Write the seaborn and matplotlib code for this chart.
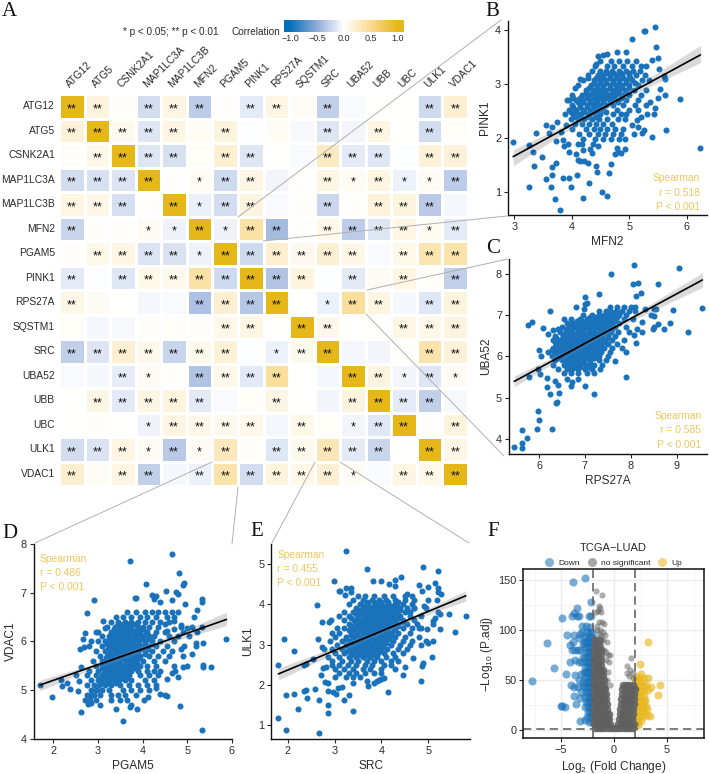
import numpy as np
import pandas as pd
import matplotlib
matplotlib.use("Agg")
import matplotlib.pyplot as plt
import seaborn as sns
from matplotlib.colors import LinearSegmentedColormap
from matplotlib.lines import Line2D

sns.set_theme(style="ticks")
plt.rcParams['font.family'] = ['Liberation Sans', 'DejaVu Sans']
plt.rcParams['mathtext.fontset'] = 'custom'
plt.rcParams['mathtext.rm'] = 'Liberation Sans'

# --- 1. DATA ---
genes = ["ATG12", "ATG5", "CSNK2A1", "MAP1LC3A", "MAP1LC3B", "MFN2", "PGAM5", "PINK1",
         "RPS27A", "SQSTM1", "SRC", "UBA52", "UBB", "UBC", "ULK1", "VDAC1"]

corr = [
    [1, .15, .02, -.2, .13, -.3, .01, -.12, .13, .04, -.28, -.03, 0, 0, -.22, .2],
    [.17, 1, .07, -.15, .13, .04, .15, -.01, .04, -.04, -.15, -.06, .13, 0, -.2, .03],
    [.02, .1, 1, -.15, -.18, .03, .2, -.15, 0, -.03, .27, -.12, -.14, -.01, .18, .17],
    [-.2, -.18, -.16, 1, .01, .04, -.22, .12, -.06, .01, .12, .06, .13, -.08, .05, -.3],
    [.13, .11, -.19, .01, 1, -.09, -.2, .14, -.03, .02, -.24, .01, .16, .15, -.32, -.05],
    [-.25, .02, .01, .05, -.07, 1, -.07, .4, -.4, .02, .1, -.3, -.15, .13, .06, -.12],
    [.01, .1, .12, -.16, -.17, -.07, 1, -.22, .22, .07, .2, .11, -.03, .1, .35, .38],
    [-.12, -.01, -.14, .1, .08, .4, -.22, 1, -.35, .15, -.01, -.13, .05, .13, .03, -.28],
    [.11, .05, 0, -.05, -.03, -.37, .2, -.33, 1, 0, -.08, .45, .13, -.05, -.14, .15],
    [.03, -.05, -.04, .02, .03, .02, .1, .12, 0, 1, .09, 0, 0, .12, .1, .14],
    [-.28, -.15, .2, .09, -.25, .08, .18, -.01, -.08, .08, 1, -.05, -.06, .02, .38, .17],
    [-.03, -.05, -.11, .05, .01, -.35, .09, -.13, .45, 0, -.05, 1, .14, -.06, -.15, .05],
    [0, .12, -.13, .12, .15, -.12, -.03, .03, .12, 0, -.06, .14, 1, -.12, -.28, -.04],
    [0, .01, 0, -.07, .13, .1, .07, .09, -.05, .1, .03, -.06, -.14, 1, .01, .15],
    [-.2, -.16, .13, .05, -.32, .05, .3, .02, -.14, .08, .33, -.13, -.25, 0, 1, .11],
    [.22, .04, .13, -.28, -.05, -.08, .38, -.2, .15, .1, .2, .04, -.02, .13, .1, 1],
]
# number of stars per cell
stars = ["2202220220200022", "2222202000202020", "0222202200222022", "2222012200212112",
         "2220212200202220", "2001121220222212", "0222212222220222", "2022222222020202",
         "2000022220122022", "0000002202200222", "2222222012200022", "0021022220022121",
         "0222220020022220", "0001222202012202", "2221212022222022", "2022022222210222"]

# panel B: MFN2 (x), PINK1 (y)
mfn2_pink1 = [(2.98, 1.93), (3.25, 1.88), (3.32, 1.75), (3.35, 1.49), (3.26, 1.09), (3.38, 2.1), (3.49, 1.65),
    (3.55, 2.24), (3.55, 1.24), (3.6, 2.1), (3.63, 1.1), (3.65, 2.2), (3.65, 1.47), (3.66, 1.32), (3.7, .87),
    (3.73, 1.55), (3.72, 1.95), (3.74, 2.29), (3.8, .67), (3.82, 2.12), (3.84, 1.27), (3.84, 1.96), (3.87, 1.85),
    (3.9, 2.25), (3.93, 1.9), (3.95, 1.27), (3.96, 1.75), (3.98, 1.1), (4.09, 1.32), (4.2, .9), (4.3, 1.18),
    (4.42, 1.48), (4.44, 1.37), (4.53, 1.0), (4.62, .93), (4.64, 1.35), (4.68, 1.53), (4.75, 1.7), (4.78, 1.82),
    (4.8, 1.75), (4.85, 1.72), (4.92, 1.8), (5.22, 2.1), (5.08, 2.07), (5.4, 2.02), (5.64, 2.15), (5.89, 2.72),
    (6.24, 1.82), (5.45, 4.05), (5.27, 3.98), (5.26, 3.99), (5.04, 3.84), (5.47, 3.69), (4.95, 3.6), (4.79, 3.6),
    (4.45, 3.52), (4.55, 3.53), (4.62, 3.55), (5.5, 3.48), (5.4, 3.45), (5.52, 3.27), (5.6, 3.15), (5.63, 3.1),
    (5.53, 2.9), (5.62, 2.8), (5.5, 2.75), (5.45, 2.55), (5.37, 2.67), (5.43, 2.45), (5.31, 2.45), (5.2, 2.4),
    (5.14, 2.34), (5.05, 2.25), (5.15, 2.2), (5.25, 2.15), (4.1, 1.6), (4.15, 1.58), (4.22, 1.57), (4.28, 1.55),
    (4.08, 1.7), (4.1, 1.9), (4.18, 1.9), (4.2, 1.78), (4.31, 1.8), (4.36, 1.73), (4.37, 1.9), (4.45, 1.85),
    (3.95, 2.7), (4.02, 2.75), (4.15, 3.09), (4.05, 2.93), (4.28, 3.12), (4.43, 3.38)]
mfn2_pink1_rows = [
    (3.42, [4.5, 4.68, 4.83, 4.97, 5.12]), (3.34, [4.4, 4.62, 4.74, 4.9, 5.05, 5.2, 5.3]),
    (3.25, [4.35, 4.5, 4.6, 4.7, 4.82, 4.94, 5.07, 5.18]), (3.16, [4.28, 4.45, 4.55, 4.66, 4.77, 4.88, 5.0, 5.12, 5.28]),
    (3.07, [4.2, 4.38, 4.5, 4.6, 4.72, 4.83, 4.94, 5.05, 5.22, 5.35]), (2.98, [4.1, 4.33, 4.44, 4.55, 4.66, 4.77, 4.88, 4.99, 5.15]),
    (2.89, [4.25, 4.38, 4.5, 4.6, 4.72, 4.83, 4.94, 5.08, 5.3]), (2.8, [4.0, 4.18, 4.3, 4.42, 4.53, 4.64, 4.75, 4.86, 5.0, 5.2]),
    (2.71, [3.92, 4.08, 4.2, 4.32, 4.44, 4.55, 4.66, 4.8, 4.95, 5.15]), (2.62, [4.0, 4.15, 4.26, 4.37, 4.48, 4.6, 4.72, 4.9, 5.1, 5.3]),
    (2.53, [3.95, 4.08, 4.2, 4.32, 4.43, 4.55, 4.78, 5.0, 5.15]), (2.44, [3.88, 4.02, 4.15, 4.28, 4.4, 4.5, 4.72, 4.85, 4.95]),
    (2.35, [3.98, 4.1, 4.22, 4.36, 4.48, 4.62, 4.8, 4.92]), (2.26, [4.05, 4.18, 4.3, 4.42, 4.55, 4.7]),
    (2.17, [4.0, 4.25, 4.38, 4.5, 4.62, 4.75, 4.9]), (2.08, [4.12, 4.3, 4.45, 4.58, 4.72, 4.85]),
    (1.98, [4.2, 4.4, 4.55, 4.68, 4.82, 4.92]),
    # staggered rows through the solid middle
    (3.2, [4.5, 4.62, 4.72, 4.85, 5.0]), (3.11, [4.42, 4.55, 4.66, 4.78, 4.9, 5.02]),
    (3.02, [4.38, 4.5, 4.6, 4.72, 4.83, 4.94, 5.1]), (2.93, [4.3, 4.44, 4.55, 4.66, 4.78, 4.88, 5.0]),
    (2.84, [4.24, 4.36, 4.47, 4.58, 4.7, 4.8, 4.92]), (2.75, [4.14, 4.26, 4.38, 4.5, 4.6, 4.72, 4.88]),
    (2.66, [4.1, 4.2, 4.32, 4.42, 4.54, 4.66, 4.8]), (2.57, [4.02, 4.14, 4.26, 4.38, 4.5]),
    (2.48, [3.98, 4.08, 4.22, 4.35, 4.46, 4.6]), (2.39, [4.05, 4.16, 4.3, 4.42])]

# panel C: RPS27A (x), UBA52 (y)
rps27a_uba52 = [(5.46, 3.8), (5.64, 3.77), (5.62, 3.9), (5.73, 4.03), (5.64, 4.22), (5.95, 4.24), (6.28, 4.23),
    (6.0, 4.46), (5.97, 4.68), (6.37, 4.88), (6.4, 4.9), (6.24, 5.1), (6.43, 5.12), (6.17, 5.25), (6.35, 5.4),
    (6.42, 5.3), (6.17, 5.48), (5.78, 5.5), (6.03, 5.58), (5.97, 5.7), (6.05, 6.0), (5.99, 6.16), (5.75, 6.77),
    (5.85, 6.82), (6.09, 6.69), (6.24, 7.1), (6.2, 6.55), (6.3, 6.63), (6.42, 6.65), (6.55, 6.9), (6.8, 7.2),
    (7.0, 7.44), (7.05, 7.3), (7.0, 7.27), (6.98, 7.15), (7.3, 7.5), (7.57, 8.0), (8.07, 8.2), (9.05, 8.13),
    (8.05, 7.76), (8.15, 7.77), (8.6, 7.75), (8.22, 7.53), (8.12, 7.45), (9.56, 7.16), (8.92, 7.11), (8.86, 6.8),
    (9.25, 6.6), (8.73, 6.66), (8.6, 6.78), (8.5, 6.7), (8.48, 6.65), (8.5, 6.97), (8.55, 7.14), (8.5, 7.15),
    (8.45, 7.0), (8.25, 6.83), (8.3, 7.15), (8.25, 6.6), (8.13, 6.65), (8.07, 6.52), (8.12, 6.32), (7.9, 6.1),
    (7.9, 5.5), (7.2, 5.1), (7.0, 5.27), (6.7, 5.27), (6.72, 5.37), (6.85, 5.45), (6.62, 5.45), (7.65, 5.88)]
rps27a_uba52_rows = [
    (7.2, [7.55, 7.7, 7.85, 8.0, 8.1]), (7.1, [7.3, 7.45, 7.55, 7.68, 7.8, 7.95, 8.1]),
    (7.0, [6.95, 7.15, 7.3, 7.42, 7.52, 7.62, 7.75, 7.9]), (6.9, [6.7, 6.9, 7.05, 7.2, 7.33, 7.43, 7.53, 7.65, 7.85, 8.05]),
    (6.8, [6.6, 6.75, 6.88, 7.0, 7.12, 7.24, 7.36, 7.48, 7.6, 7.75]), (6.7, [6.5, 6.65, 6.78, 6.9, 7.02, 7.14, 7.26, 7.38, 7.5, 7.65, 7.9]),
    (6.6, [6.45, 6.6, 6.72, 6.84, 6.96, 7.08, 7.2, 7.32, 7.44, 7.56, 7.72, 7.95]), (6.5, [6.35, 6.52, 6.65, 6.77, 6.89, 7.01, 7.13, 7.25, 7.37, 7.5, 7.65]),
    (6.4, [6.3, 6.45, 6.58, 6.7, 6.82, 6.94, 7.06, 7.18, 7.3, 7.42, 7.6, 7.85]), (6.3, [6.38, 6.52, 6.64, 6.76, 6.88, 7.0, 7.12, 7.24, 7.36, 7.5, 7.7]),
    (6.2, [6.3, 6.44, 6.56, 6.68, 6.8, 6.92, 7.04, 7.16, 7.28, 7.42, 7.6, 7.8]), (6.1, [6.2, 6.35, 6.48, 6.6, 6.72, 6.84, 6.96, 7.08, 7.2, 7.35, 7.55]),
    (6.0, [6.28, 6.42, 6.54, 6.66, 6.78, 6.9, 7.02, 7.14, 7.3, 7.5]), (5.9, [6.35, 6.5, 6.62, 6.74, 6.86, 6.98, 7.1, 7.3, 7.45]),
    (5.8, [6.3, 6.55, 6.66, 6.78, 6.9, 7.02, 7.2, 7.38]), (5.7, [6.42, 6.6, 6.72, 6.85, 7.0, 7.15, 7.32]),
    (5.6, [6.55, 6.7, 6.85, 7.05, 7.2]),
    # staggered rows through the solid middle
    (7.05, [7.5, 7.62, 7.75]), (6.95, [7.1, 7.25, 7.38, 7.48, 7.58, 7.7]),
    (6.85, [6.82, 6.94, 7.06, 7.18, 7.3, 7.42, 7.54, 7.66]), (6.75, [6.7, 6.84, 6.96, 7.08, 7.2, 7.32, 7.44, 7.56]),
    (6.65, [6.58, 6.72, 6.84, 6.96, 7.08, 7.2, 7.32, 7.44, 7.58]), (6.55, [6.52, 6.66, 6.78, 6.9, 7.02, 7.14, 7.26, 7.38, 7.5]),
    (6.45, [6.38, 6.52, 6.64, 6.76, 6.88, 7.0, 7.12, 7.24, 7.36, 7.5]), (6.35, [6.34, 6.46, 6.58, 6.7, 6.82, 6.94, 7.06, 7.18, 7.3, 7.44]),
    (6.25, [6.38, 6.5, 6.62, 6.74, 6.86, 6.98, 7.1, 7.22, 7.36]), (6.15, [6.28, 6.42, 6.54, 6.66, 6.78, 6.9, 7.02, 7.14, 7.28]),
    (6.05, [6.35, 6.48, 6.6, 6.72, 6.84, 6.96, 7.08, 7.22]), (5.95, [6.44, 6.56, 6.68, 6.8, 6.92, 7.04, 7.2]),
    (5.85, [6.6, 6.72, 6.84, 6.96, 7.1]), (5.75, [6.66, 6.78, 6.9, 7.08])]

# panel D: PGAM5 (x), VDAC1 (y)
pgam5_vdac1 = [(1.7, 5.1), (1.98, 4.85), (2.17, 5.2), (2.2, 5.08), (2.3, 5.15), (2.38, 5.03), (2.5, 5.3), (2.55, 4.98),
    (2.58, 5.18), (2.63, 4.55), (2.62, 5.47), (2.6, 5.85), (2.68, 5.88), (2.72, 6.17), (2.75, 6.58), (2.67, 6.05),
    (2.92, 6.84), (2.95, 6.2), (3.12, 6.42), (3.15, 6.28), (3.72, 7.66), (4.67, 7.8), (4.82, 7.4), (4.93, 7.2),
    (4.9, 7.15), (4.07, 7.18), (3.85, 6.9), (3.82, 6.9), (4.2, 6.95), (4.25, 6.87), (4.3, 6.93), (4.52, 7.04),
    (4.75, 7.02), (4.8, 6.98), (4.65, 6.85), (4.4, 6.8), (4.95, 6.77), (5.33, 6.88), (5.33, 6.8), (5.23, 6.65),
    (5.15, 6.5), (5.88, 6.05), (5.53, 5.48), (5.36, 5.52), (5.35, 5.48), (5.35, 5.97), (5.2, 5.9), (5.2, 5.97),
    (5.1, 5.75), (5.33, 4.18), (4.83, 4.68), (4.5, 4.9), (4.4, 4.92), (4.55, 4.88), (4.55, 5.23), (4.3, 5.05),
    (3.57, 4.37), (3.4, 4.62), (3.87, 4.6), (4.04, 4.8), (4.13, 4.85), (3.75, 4.7), (3.72, 4.65), (3.05, 4.7),
    (2.85, 4.73), (2.78, 4.72), (5.0, 5.5), (4.9, 5.47), (4.8, 5.27), (4.67, 5.35), (4.73, 5.4), (4.85, 5.85),
    (4.92, 5.9), (5.1, 6.3), (5.0, 6.28), (5.33, 6.3), (5.22, 6.2), (4.85, 6.33), (5.05, 6.1), (4.5, 6.35),
    (4.7, 6.42), (4.55, 6.22), (4.7, 6.25), (2.85, 4.9), (2.95, 5.0), (2.82, 4.82)]
pgam5_vdac1_rows = [
    (6.6, [3.65, 3.85, 4.05, 4.2, 4.35, 4.5, 4.65, 4.8]), (6.5, [3.4, 3.55, 3.75, 3.95, 4.1, 4.3, 4.55, 4.7]),
    (6.4, [3.3, 3.45, 3.6, 3.75, 3.9, 4.05, 4.2, 4.4, 4.6]), (6.3, [3.2, 3.38, 3.5, 3.62, 3.75, 3.9, 4.0, 4.15, 4.35, 4.85]),
    (6.2, [3.0, 3.3, 3.42, 3.55, 3.68, 3.8, 3.95, 4.1, 4.3, 4.5, 4.9]), (6.1, [3.1, 3.25, 3.38, 3.5, 3.62, 3.74, 3.86, 4.0, 4.15, 4.25, 4.6, 4.8]),
    (6.0, [2.85, 3.0, 3.15, 3.3, 3.42, 3.54, 3.66, 3.78, 3.9, 4.05, 4.2, 4.4, 4.7]), (5.9, [2.8, 3.1, 3.25, 3.37, 3.49, 3.61, 3.73, 3.85, 3.97, 4.12, 4.3, 4.55]),
    (5.8, [2.95, 3.15, 3.3, 3.42, 3.54, 3.66, 3.78, 3.9, 4.05, 4.2, 4.45, 4.65]), (5.7, [3.05, 3.2, 3.35, 3.47, 3.59, 3.71, 3.83, 3.95, 4.15, 4.35, 4.6, 4.9]),
    (5.6, [2.88, 3.1, 3.25, 3.38, 3.5, 3.62, 3.74, 3.86, 4.0, 4.25, 4.5]), (5.5, [2.95, 3.1, 3.2, 3.32, 3.44, 3.56, 3.68, 3.8, 3.95, 4.1, 4.3, 4.7]),
    (5.4, [2.8, 3.0, 3.15, 3.27, 3.39, 3.51, 3.63, 3.75, 3.9, 4.1, 4.25, 4.4]), (5.3, [2.75, 2.95, 3.08, 3.2, 3.32, 3.44, 3.56, 3.7, 3.95, 4.15, 4.35]),
    (5.2, [2.85, 3.0, 3.12, 3.24, 3.36, 3.48, 3.6, 3.75, 4.05, 4.25]), (5.1, [2.75, 2.9, 3.02, 3.15, 3.3, 3.5, 3.7, 3.9, 4.1, 4.3]),
    (5.0, [2.85, 2.98, 3.1, 3.25, 3.55, 3.75, 3.95, 4.15]), (4.9, [2.75, 2.9, 3.05, 3.3, 3.45, 3.6, 3.85]),
    (4.8, [2.7, 2.95, 3.3, 3.5, 3.65]),
    # staggered rows through the solid middle
    (6.35, [3.44, 3.56, 3.7, 3.84]), (6.25, [3.36, 3.48, 3.6, 3.74, 3.88, 4.02]),
    (6.15, [3.32, 3.44, 3.56, 3.68, 3.8, 3.92, 4.08]), (6.05, [3.24, 3.36, 3.48, 3.6, 3.72, 3.84, 3.96, 4.12]),
    (5.95, [3.2, 3.31, 3.43, 3.55, 3.67, 3.79, 3.91, 4.05, 4.2]), (5.85, [3.22, 3.36, 3.48, 3.6, 3.72, 3.84, 3.97, 4.12]),
    (5.75, [3.26, 3.41, 3.53, 3.65, 3.77, 3.89, 4.05]), (5.65, [3.18, 3.32, 3.44, 3.56, 3.68, 3.8, 3.93]),
    (5.55, [3.15, 3.26, 3.38, 3.5, 3.62, 3.74, 3.88]), (5.45, [3.08, 3.21, 3.33, 3.45, 3.57, 3.69, 3.82]),
    (5.35, [3.14, 3.26, 3.38, 3.5, 3.62]), (5.25, [3.06, 3.18, 3.3, 3.42, 3.54, 3.66]),
    (5.15, [3.08, 3.22, 3.4])]

# panel E: SRC (x), ULK1 (y)
src_ulk1 = [(1.8, 1.17), (1.97, .87), (2.67, .8), (3.39, 1.35), (2.87, 1.3), (2.85, 1.5), (2.22, 1.39), (2.67, 1.62),
    (2.42, 1.67), (1.97, 1.75), (2.13, 1.77), (2.35, 1.85), (2.4, 1.88), (2.58, 1.9), (3.2, 1.63), (3.3, 1.75),
    (4.14, 1.82), (1.8, 2.5), (1.93, 3.13), (2.13, 2.83), (2.35, 2.5), (2.4, 2.52), (2.55, 2.65), (2.63, 3.98),
    (2.65, 3.15), (2.73, 2.95), (2.78, 2.88), (2.73, 3.57), (2.88, 3.57), (2.93, 3.6), (2.99, 4.59), (3.1, 4.32),
    (3.12, 4.33), (3.25, 4.4), (3.23, 4.22), (3.35, 4.3), (3.35, 4.4), (3.25, 5.33), (3.7, 4.87), (3.82, 4.58),
    (4.0, 4.59), (4.17, 4.5), (4.3, 4.6), (4.42, 4.67), (4.3, 4.45), (4.8, 4.48), (4.88, 4.93), (5.2, 4.82),
    (5.15, 4.53), (5.2, 4.4), (5.0, 4.43), (4.87, 4.32), (5.2, 4.3), (5.27, 4.25), (5.0, 4.1), (5.18, 4.12),
    (5.45, 3.75), (5.8, 3.72), (5.57, 3.32), (5.25, 3.38), (5.2, 3.8), (5.25, 3.75), (5.1, 3.58), (5.15, 3.65),
    (5.1, 3.5), (4.97, 3.38), (5.1, 3.09), (4.95, 3.1), (5.0, 3.05), (5.08, 2.7), (4.88, 2.55), (4.87, 2.47),
    (4.85, 2.1), (4.47, 2.24), (4.5, 2.44), (4.67, 2.66), (4.0, 2.3), (4.05, 2.18), (4.0, 2.15), (3.95, 2.12),
    (3.85, 2.05), (3.9, 2.1), (3.7, 2.1), (3.72, 1.98), (2.8, 2.08), (2.85, 2.05), (2.87, 1.84), (2.97, 1.82),
    (3.03, 1.77), (3.07, 1.93), (3.15, 1.95), (3.4, 2.05), (2.7, 2.25), (2.75, 2.42), (2.82, 2.43), (4.9, 3.95),
    (4.95, 3.9), (4.85, 3.7), (4.8, 3.4), (4.85, 3.0), (4.7, 3.9), (4.55, 4.25)]
src_ulk1_rows = [
    (4.2, [3.5, 3.65, 3.85, 4.05, 4.25, 4.5, 4.65]), (4.1, [3.4, 3.6, 3.8, 3.95, 4.1, 4.3, 4.5, 4.7]),
    (4.0, [3.3, 3.55, 3.72, 3.88, 4.0, 4.15, 4.3, 4.45, 4.65]), (3.9, [3.45, 3.65, 3.78, 3.9, 4.02, 4.14, 4.26, 4.4, 4.55, 4.7]),
    (3.8, [3.2, 3.4, 3.58, 3.72, 3.84, 3.96, 4.08, 4.2, 4.32, 4.5, 4.62]), (3.7, [3.1, 3.3, 3.5, 3.65, 3.77, 3.89, 4.01, 4.13, 4.25, 4.4, 4.6]),
    (3.6, [3.2, 3.42, 3.58, 3.7, 3.82, 3.94, 4.06, 4.18, 4.3, 4.45, 4.7]), (3.5, [3.3, 3.5, 3.62, 3.74, 3.86, 3.98, 4.1, 4.22, 4.36, 4.55, 4.75]),
    (3.4, [3.05, 3.2, 3.42, 3.55, 3.67, 3.79, 3.91, 4.03, 4.15, 4.27, 4.45, 4.65, 4.85]), (3.3, [2.95, 3.1, 3.35, 3.48, 3.6, 3.72, 3.84, 3.96, 4.08, 4.2, 4.35, 4.6]),
    (3.2, [3.0, 3.25, 3.42, 3.55, 3.67, 3.79, 3.91, 4.03, 4.15, 4.3, 4.5, 4.8]), (3.1, [2.9, 3.15, 3.33, 3.47, 3.6, 3.72, 3.84, 3.96, 4.08, 4.25, 4.45, 4.65]),
    (3.0, [3.05, 3.25, 3.4, 3.53, 3.66, 3.78, 3.9, 4.02, 4.2, 4.4, 4.6]), (2.9, [2.95, 3.15, 3.3, 3.45, 3.6, 3.72, 3.84, 3.96, 4.12, 4.35, 4.55]),
    (2.8, [3.0, 3.2, 3.35, 3.5, 3.65, 3.8, 3.92, 4.05, 4.25, 4.45]), (2.7, [2.85, 3.1, 3.3, 3.45, 3.6, 3.75, 3.9, 4.1, 4.3]),
    (2.6, [2.95, 3.15, 3.35, 3.5, 3.7, 3.85, 4.0, 4.2, 4.35]), (2.5, [2.95, 3.1, 3.28, 3.45, 3.65, 3.8, 4.05, 4.2]),
    (2.4, [3.0, 3.2, 3.4, 3.6, 3.75, 4.0, 4.3]), (2.3, [3.1, 3.3, 3.45, 3.65, 3.85]),
    (2.2, [3.0, 3.25, 3.4, 3.55]),
    # staggered rows through the solid middle
    (4.05, [3.7, 3.85, 4.0, 4.15, 4.35]), (3.95, [3.6, 3.72, 3.84, 3.96, 4.08, 4.2, 4.33]),
    (3.85, [3.52, 3.65, 3.78, 3.9, 4.02, 4.14, 4.26, 4.4]), (3.75, [3.45, 3.58, 3.71, 3.83, 3.95, 4.07, 4.19, 4.33]),
    (3.65, [3.36, 3.5, 3.64, 3.76, 3.88, 4.0, 4.12, 4.24, 4.38]), (3.55, [3.44, 3.56, 3.68, 3.8, 3.92, 4.04, 4.16, 4.28, 4.45]),
    (3.45, [3.36, 3.48, 3.61, 3.73, 3.85, 3.97, 4.09, 4.21, 4.35]), (3.35, [3.3, 3.42, 3.54, 3.66, 3.78, 3.9, 4.02, 4.14, 4.28]),
    (3.25, [3.35, 3.48, 3.61, 3.73, 3.85, 3.97, 4.09, 4.22]), (3.15, [3.25, 3.4, 3.54, 3.66, 3.78, 3.9, 4.02, 4.16]),
    (3.05, [3.33, 3.46, 3.59, 3.72, 3.84, 3.96, 4.1]), (2.95, [3.38, 3.52, 3.66, 3.78, 3.9, 4.04]),
    (2.85, [3.27, 3.42, 3.58, 3.72, 3.86, 3.98]), (2.75, [3.38, 3.52, 3.68, 3.82])]

# panel F: volcano, points as (log2FC, -log10 padj)
down_points = [(-2.77, 152), (-3.9, 148), (-2.17, 128), (-3.46, 121.5), (-3.77, 117), (-3.93, 113.6), (-3.5, 113.6),
    (-3.27, 113.6), (-4.94, 112), (-2.33, 114), (-2.17, 114), (-6.35, 87.4), (-5.63, 62), (-7.74, 49), (-4.43, 95),
    (-3.77, 95), (-4.53, 56), (-5, 24), (-4.87, 24), (-4.62, 23.5), (-3.2, 9.6), (-2.73, 10), (-3.6, 26), (-3.74, 34),
    (-4.06, 45), (-3.74, 43), (-3.36, 43), (-3.68, 55), (-4.15, 68), (-3.68, 70), (-4, 80), (-3.68, 80), (-3.84, 88),
    (-4.15, 85), (-3.05, 103.6), (-2.67, 103.6), (-2.26, 103), (-3.2, 96), (-3.2, 32), (-3.1, 38), (-3.3, 50), (-3.1, 56),
    (-3.0, 68), (-3.3, 68), (-3.2, 80), (-3.4, 80), (-3.3, 92), (-3.0, 98), (-2.9, 44), (-2.9, 86)]
down_rows = [(8, [-2.1, -2.4]), (13, [-2.05, -2.3, -2.55]), (18, [-2.05, -2.25, -2.5]), (23, [-2.05, -2.25, -2.45, -2.7]),
    (28, [-2.05, -2.25, -2.45, -2.65]), (33, [-2.05, -2.25, -2.45, -2.7]), (38, [-2.05, -2.25, -2.45, -2.65]),
    (43, [-2.05, -2.25, -2.45, -2.7]), (48, [-2.05, -2.25, -2.45, -2.65, -2.9]), (53, [-2.05, -2.25, -2.45, -2.7]),
    (58, [-2.05, -2.25, -2.45, -2.65, -2.85]), (63, [-2.05, -2.25, -2.45, -2.7]), (68, [-2.05, -2.25, -2.45, -2.65]),
    (73, [-2.05, -2.25, -2.45, -2.7, -2.9]), (78, [-2.05, -2.25, -2.45, -2.65]), (83, [-2.05, -2.25, -2.45, -2.7]),
    (88, [-2.05, -2.25, -2.45, -2.65, -2.85]), (93, [-2.05, -2.25, -2.45, -2.7]), (98, [-2.1, -2.3, -2.55])]
ns_sparse = [(-1.7, 139), (-1.13, 135), (-1.4, 124), (-1.3, 122), (-1.2, 118), (-1.7, 118), (-1.5, 119), (1.57, 72.5),
    (1.2, 64), (1.5, 60), (1.8, 57), (1.2, 57), (1.4, 54), (1.75, 52), (-.38, 75), (-.5, 68), (-.6, 58), (-.7, 50), (-.35, 45),
    (-1.4, 108), (-1.1, 108), (-.9, 106), (-1.3, 100), (-1.05, 98), (-.85, 95), (-1.0, 90), (-.7, 88), (-.95, 80), (-.75, 78),
    (-.8, 70), (-.55, 75), (-1.6, 104), (-1.2, 94), (-1.45, 96), (-1.75, 92), (-1.55, 88), (-1.2, 84), (-1.65, 100)]
ns_rows = [(2, [-1.8, -1.5, -1.2, -.9, -.6, -.3, 0, .3, .6, .9, 1.2, 1.5, 1.8]),
    (6, [-1.85, -1.55, -1.25, -.95, -.65, -.35, .35, .65, .95, 1.25, 1.55, 1.85]),
    (11, [-1.85, -1.55, -1.25, -.95, -.65, -.45, .5, .8, 1.1, 1.4, 1.7]),
    (16, [-1.85, -1.55, -1.25, -.95, -.7, -.5, .55, .85, 1.15, 1.45, 1.75]),
    (21, [-1.85, -1.55, -1.25, -.95, -.65, .6, .9, 1.2, 1.5, 1.8]),
    (26, [-1.85, -1.55, -1.25, -.95, -.7, .65, .95, 1.25, 1.55, 1.85]),
    (31, [-1.85, -1.55, -1.25, -.95, -.75, .7, 1.0, 1.3, 1.6, 1.9]),
    (36, [-1.85, -1.55, -1.25, -.95, -.8, .75, 1.05, 1.35, 1.65, 1.9]),
    (41, [-1.85, -1.55, -1.25, -.95, -.85, .8, 1.1, 1.4, 1.7, 1.95]),
    (45, [-1.85, -1.55, -1.25, -.9, .85, 1.15, 1.45, 1.75]), (50, [-1.85, -1.55, -1.25, -.95]),
    (55, [-1.85, -1.55, -1.25, -1.0]), (60, [-1.85, -1.55, -1.25, -1.05]), (65, [-1.85, -1.55, -1.25]),
    (70, [-1.85, -1.55, -1.25]), (75, [-1.85, -1.5, -1.2]), (80, [-1.85, -1.5, -1.25]), (85, [-1.8, -1.45]), (90, [-1.75, -1.3])]
up_points = [(3.2, 88.4), (2.42, 66), (2.5, 56), (3.18, 52), (4.34, 44.7), (4.18, 35), (3.5, 43), (3.4, 14.6), (3.08, 21),
    (3.1, 15), (3.2, 40), (3.0, 45), (2.95, 30), (2.85, 52), (3.05, 24)]
up_rows = [(5, [2.05, 2.25]), (9, [2.05, 2.3, 2.55]), (14, [2.05, 2.3, 2.55, 2.8]), (19, [2.05, 2.3, 2.55, 2.8]),
    (24, [2.05, 2.3, 2.55, 2.75]), (29, [2.05, 2.3, 2.55, 2.8]), (34, [2.05, 2.3, 2.55, 2.8]), (39, [2.05, 2.3, 2.55, 2.8]),
    (44, [2.05, 2.3, 2.55, 2.8]), (49, [2.05, 2.3, 2.55]), (53, [2.1, 2.35])]


def collect(points, rows):
    # points typed one by one + the dense part typed row by row
    all_pts = list(points) + [(x, y) for y, xs in rows for x in xs]
    return pd.DataFrame(all_pts, columns=["x", "y"])


# --- 2. LAYOUT HELPERS ---
W, H = 709, 774
fig = plt.figure(figsize=(W / 100, H / 100), dpi=100)
DARK = "#2b2b2b"
GOLD = "#f0c75e"
BLUE = "#1a73ba"


def axes_px(left, top, right, bottom):
    return fig.add_axes([left / W, 1 - bottom / H, (right - left) / W, (bottom - top) / H])


def text_px(x, y, s, **kw):
    fig.text(x / W, 1 - y / H, s, **kw)


# --- 3. HEATMAP ---
cmap = LinearSegmentedColormap.from_list("corr", [(0, "#0571b9"), (.05, "#0571b9"), (.27, "#8fa9d8"), (.5, "#ffffff"),
                                                  (.73, "#f9d98e"), (.95, "#e5b718"), (1, "#e5b718")])
annot = np.array([["*" * int(c) for c in row] for row in stars])
corr_df = pd.DataFrame(corr, index=genes, columns=genes)
ax_h = axes_px(59, 94, 468, 486)
ax_cb = axes_px(284, 20, 404, 32)
sns.heatmap(corr_df, ax=ax_h, cmap=cmap, vmin=-1.11, vmax=1.11, annot=annot, fmt="", linewidths=1, linecolor="white",
            annot_kws={"fontsize": 9, "color": "#111111"}, cbar_ax=ax_cb,
            cbar_kws={"orientation": "horizontal", "ticks": [-1, -.5, 0, .5, 1]})
# asterisks sit high in the line box, push them back to the cell centre
for t in ax_h.texts:
    t.set_y(t.get_position()[1] + .13)
ax_h.xaxis.tick_top()
ax_h.tick_params(length=0, pad=3)
ax_h.set_xticklabels(genes, rotation=45, ha="left", rotation_mode="anchor", fontsize=7.4, color=DARK)
ax_h.set_yticklabels(genes, rotation=0, fontsize=7.4, color=DARK)
ax_cb.tick_params(length=0, labelsize=6.5, pad=1.5, labelcolor=DARK)
for sp in ax_cb.spines.values():
    sp.set_visible(False)
text_px(123, 32, "* p < 0.05; ** p < 0.01", fontsize=7.2, color=DARK, va="center")
text_px(231, 32, "Correlation", fontsize=7.2, color=DARK, va="center")


# --- 4. SCATTER PANELS ---
def scatter_panel(box, df, xlab, ylab, xlim, ylim, xticks, yticks, r_txt, txt_x, txt_ys, ha):
    ax = axes_px(*box)
    sns.regplot(data=df, x="x", y="y", ax=ax, ci=80, n_boot=300, seed=3, color=BLUE,
                scatter_kws={"s": 19, "alpha": 1, "linewidths": 0},
                line_kws={"color": "black", "lw": 1.2})
    ax.set_xlim(*xlim)
    ax.set_ylim(*ylim)
    ax.set_xticks(xticks)
    ax.set_yticks(yticks)
    ax.set_xlabel(xlab, fontsize=8.6, color=DARK, labelpad=3)
    ax.set_ylabel(ylab, fontsize=8.6, color=DARK, labelpad=3)
    ax.tick_params(labelsize=7.8, length=3, width=.8, pad=2, labelcolor=DARK)
    sns.despine(ax=ax)
    for side in ("left", "bottom"):
        ax.spines[side].set_linewidth(1.0)
        ax.spines[side].set_color("#111111")
    for y, s in zip(txt_ys, ["Spearman", r_txt, "P < 0.001"]):
        text_px(txt_x, y, s, fontsize=7.4, color=GOLD, va="center", ha=ha)
    return ax


scatter_panel((508, 21, 707, 215), collect(mfn2_pink1, mfn2_pink1_rows), "MFN2", "PINK1",
              (2.89, 6.354), (.58, 4.166), [3, 4, 5, 6], [1, 2, 3, 4], "r = 0.518", 700, [178, 192.7, 207], "right")
scatter_panel((509, 259, 707, 454), collect(rps27a_uba52, rps27a_uba52_rows), "RPS27A", "UBA52",
              (5.346, 9.66), (3.636, 8.356), [6, 7, 8, 9], [4, 5, 6, 7, 8], "r = 0.585", 701.5, [415.7, 430, 444.7], "right")
scatter_panel((33.7, 544, 232.3, 738.7), collect(pgam5_vdac1, pgam5_vdac1_rows), "PGAM5", "VDAC1",
              (1.56, 6.01), (4, 8), [2, 3, 4, 5, 6], [4, 5, 6, 7, 8], "r = 0.486", 39.7, [558.7, 573, 587.3], "left")
scatter_panel((271.3, 544, 470, 738.7), collect(src_ulk1, src_ulk1_rows), "SRC", "ULK1",
              (1.65, 5.89), (.66, 5.5), [2, 3, 4, 5], [1, 2, 3, 4, 5], "r = 0.455", 277.3, [554.7, 569, 583], "left")

# --- 5. VOLCANO ---
ax_v = axes_px(523.3, 568.7, 704, 738.3)
ax_v.set_axisbelow(True)
ax_v.set_xticks([-7.5, -2.5, 2.5, 7.5], minor=True)
ax_v.set_yticks([25, 75, 125], minor=True)
ax_v.grid(True, which="major", color="#ebebeb", lw=1)
ax_v.grid(True, which="minor", color="#f3f3f3", lw=.6)
sns.scatterplot(data=collect(down_points, down_rows), x="x", y="y", ax=ax_v, color="#1a73ba", alpha=.6, s=34, linewidth=0)
sns.scatterplot(data=collect(up_points, up_rows), x="x", y="y", ax=ax_v, color="#e8b820", alpha=.65, s=34, linewidth=0)
sns.scatterplot(data=collect(ns_sparse, []), x="x", y="y", ax=ax_v, color="#5f5f5f", alpha=.5, s=20, linewidth=0)
sns.scatterplot(data=collect([], ns_rows), x="x", y="y", ax=ax_v, color="#5f5f5f", alpha=.85, s=30, linewidth=0)
for xv in (-2, 2):
    ax_v.axvline(xv, color="#666666", lw=1.2, dashes=(5, 3))
ax_v.axhline(1.3, color="#666666", lw=1.2, dashes=(5, 3))
ax_v.set_xlim(-8.56, 8.49)
ax_v.set_ylim(-7.95, 161)
ax_v.set_xticks([-5, 0, 5])
ax_v.set_yticks([0, 50, 100, 150])
ax_v.tick_params(which="major", labelsize=7.8, length=3, width=.8, pad=2, labelcolor=DARK)
ax_v.tick_params(which="minor", length=0)
ax_v.set_xlabel(r"Log$_2$ (Fold Change)", fontsize=8.6, color=DARK, labelpad=3)
ax_v.set_ylabel(r"$-$Log$_{10}$ (P.adj)", fontsize=8.6, color=DARK, labelpad=2)
for sp in ax_v.spines.values():
    sp.set_linewidth(1.1)
    sp.set_color("#111111")
ax_v.set_title("TCGA\u2212LUAD", fontsize=8, color=DARK, pad=13)
handles = [Line2D([], [], ls="", marker="o", ms=6.5, mew=0, color=c, alpha=.55) for c in ("#1a73ba", "#5f5f5f", "#e8b820")]
ax_v.legend(handles, ["Down", "no significant", "Up"], loc="lower center", bbox_to_anchor=(.5, .985), ncol=3, frameon=False,
            fontsize=6, handlelength=1.0, handletextpad=.6, columnspacing=.9, borderpad=0)

# --- 6. CONNECTORS AND PANEL LETTERS ---
links = [((238, 217), (501, 20)), ((263, 241), (507, 216)), ((367, 290), (508, 259)), ((366, 314), (504, 456)),
         ((212, 462), (35, 543)), ((238, 487), (232, 544)), ((315, 462), (272, 543)), ((340, 462), (469, 543))]
for (x0, y0), (x1, y1) in links:
    fig.add_artist(Line2D([x0 / W, x1 / W], [1 - y0 / H, 1 - y1 / H], color="#b0b0b0", lw=.7))

for letter, x, y in [("A", 2, 16), ("B", 485, 16), ("C", 486, 253), ("D", 2, 538), ("E", 250, 536), ("F", 487, 536)]:
    text_px(x, y, letter, family="Liberation Serif", fontsize=15, color="#111111", va="baseline")

fig.savefig("out.png", dpi=100)
